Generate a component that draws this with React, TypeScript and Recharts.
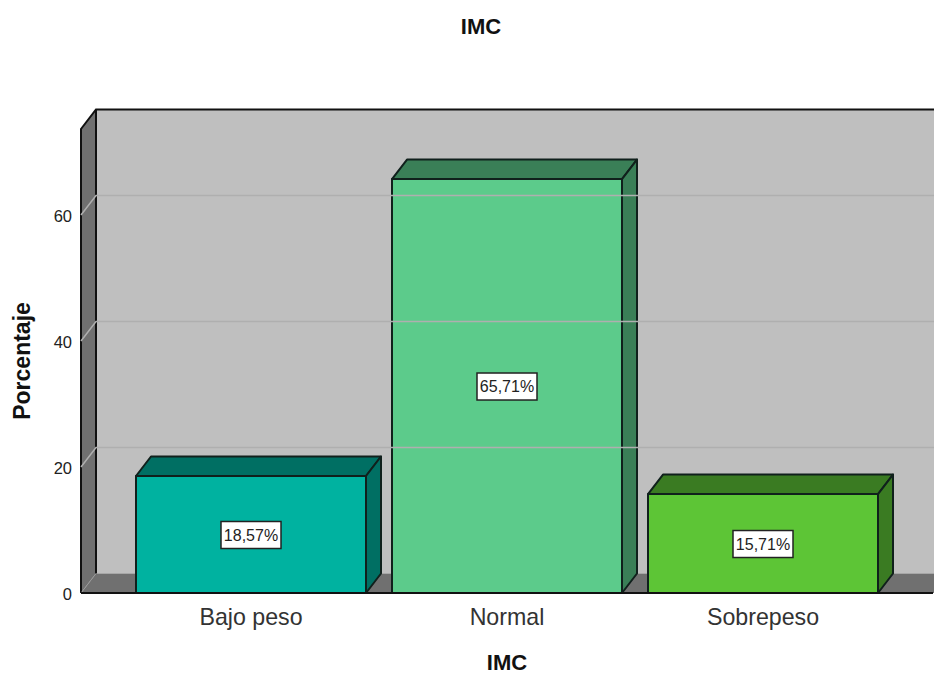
import React from "react";
import { BarChart, Bar, XAxis, YAxis, ReferenceArea, ReferenceLine, LabelList, Label } from "recharts";

const categories = ["Bajo peso", "Normal", "Sobrepeso"];
const percentages = [18.57, 65.71, 15.71];
const yTicks = [0, 20, 40, 60];
const gridValues = [20, 40, 60];
const yMax = 73.65;

const frontColors = ["#00B2A0", "#5CCB8B", "#5DC536"];
const sideColors = ["#006F63", "#3A7F57", "#3A7B22"];
const DX = 15;
const DY = 19.5;
const PAD = 42;
const FONT = "'Liberation Sans', Arial, sans-serif";

const rows = categories.map((name, i) => ({ name, value: percentages[i] }));

const Walls = (p: any) => {
  const { y, width, height } = p;
  const x = p.x - PAD;
  const b = y + height;
  const r = x + width + 100;
  return (
    <g>
      <rect x={x + DX} y={y - DY} width={r - x} height={height} fill="#BFBFBF" />
      <polygon points={`${x},${y} ${x + DX},${y - DY} ${x + DX},${b - DY} ${x},${b}`} fill="#707070" />
      <polygon points={`${x},${b} ${x + DX},${b - DY} ${r},${b - DY} ${r},${b}`} fill="#707070" />
      <path d={`M${x},${b} L${x},${y} L${x + DX},${y - DY} L${r},${y - DY}`} fill="none" stroke="#111" strokeWidth={2} />
      <path d={`M${x + DX},${y - DY} L${x + DX},${b - DY}`} fill="none" stroke="#111" strokeWidth={2} />
      <path d={`M${x},${b} L${x + DX},${b - DY}`} fill="none" stroke="#9A9A9A" strokeWidth={1} />
    </g>
  );
};

const GridLine = (p: any) => {
  const { x1, y1, x2 } = p;
  return (
    <path
      d={`M${x1},${y1} L${x1 + DX},${y1 - DY} L${x2 + 40},${y1 - DY}`}
      fill="none"
      stroke="#AFAFAF"
      strokeWidth={1.5}
    />
  );
};

const Bar3D = (p: any) => {
  const { x, y, width, height, index } = p;
  const r = x + width;
  const b = y + height;
  const edge = { stroke: "#10201C", strokeWidth: 2, strokeLinejoin: "round" as const };
  return (
    <g>
      <polygon points={`${x},${y} ${x + DX},${y - DY} ${r + DX},${y - DY} ${r},${y}`} fill={sideColors[index]} {...edge} />
      <polygon points={`${r},${y} ${r + DX},${y - DY} ${r + DX},${b - DY} ${r},${b}`} fill={sideColors[index]} {...edge} />
      <rect x={x} y={y} width={width} height={height} fill={frontColors[index]} {...edge} />
    </g>
  );
};

const ValueBox = (p: any) => {
  const { x, y, width, height, value } = p;
  const cx = x + width / 2;
  const cy = y + height / 2;
  return (
    <g>
      <rect x={cx - 30} y={cy - 13} width={60} height={27} fill="#FFFFFF" stroke="#222" strokeWidth={1.5} />
      <text x={cx} y={cy + 6} textAnchor="middle" fontFamily={FONT} fontSize={16} fill="#222">
        {value.toFixed(2).replace(".", ",") + "%"}
      </text>
    </g>
  );
};

export default function App() {
  return (
    <div style={{ position: "absolute", left: 0, top: 0, width: 934, height: 673, background: "#fff", overflow: "hidden" }}>
      <div
        style={{
          position: "absolute",
          top: 14,
          left: 0,
          width: 962,
          textAlign: "center",
          fontFamily: FONT,
          fontWeight: "bold",
          fontSize: 22,
          color: "#111",
        }}
      >
        IMC
      </div>
      <BarChart
        width={934}
        height={673}
        data={rows}
        margin={{ top: 129, right: 1, bottom: 0, left: 0 }}
      >
        <ReferenceArea y1={0} y2={yMax} shape={Walls} ifOverflow="visible" />
        {gridValues.map((v) => (
          <ReferenceLine key={v} y={v} shape={GridLine} ifOverflow="visible" />
        ))}
        <XAxis
          dataKey="name"
          padding={{ left: PAD, right: PAD }}
          tickLine={false}
          axisLine={{ stroke: "#111", strokeWidth: 2 }}
          tick={{ fontFamily: FONT, fontSize: 23.2, fill: "#333" }}
          tickMargin={10}
          height={80}
        >
          <Label value="IMC" position="insideTop" offset={61} style={{ fontFamily: FONT, fontWeight: "bold", fontSize: 22, fill: "#111" }} />
        </XAxis>
        <YAxis
          type="number"
          domain={[0, yMax]}
          ticks={yTicks}
          tickLine={false}
          axisLine={false}
          width={81}
          interval={0}
          tickMargin={3}
          tick={{ fontFamily: FONT, fontSize: 16.5, fill: "#222", dy: 1 }}
        >
          <Label value="Porcentaje" angle={-90} position="insideLeft" offset={22} style={{ fontFamily: FONT, fontWeight: "bold", fontSize: 23, fill: "#111", textAnchor: "middle" }} />
        </YAxis>
        <Bar dataKey="value" barSize={230} shape={Bar3D} isAnimationActive={false}>
          <LabelList dataKey="value" content={ValueBox} />
        </Bar>
      </BarChart>
    </div>
  );
}
